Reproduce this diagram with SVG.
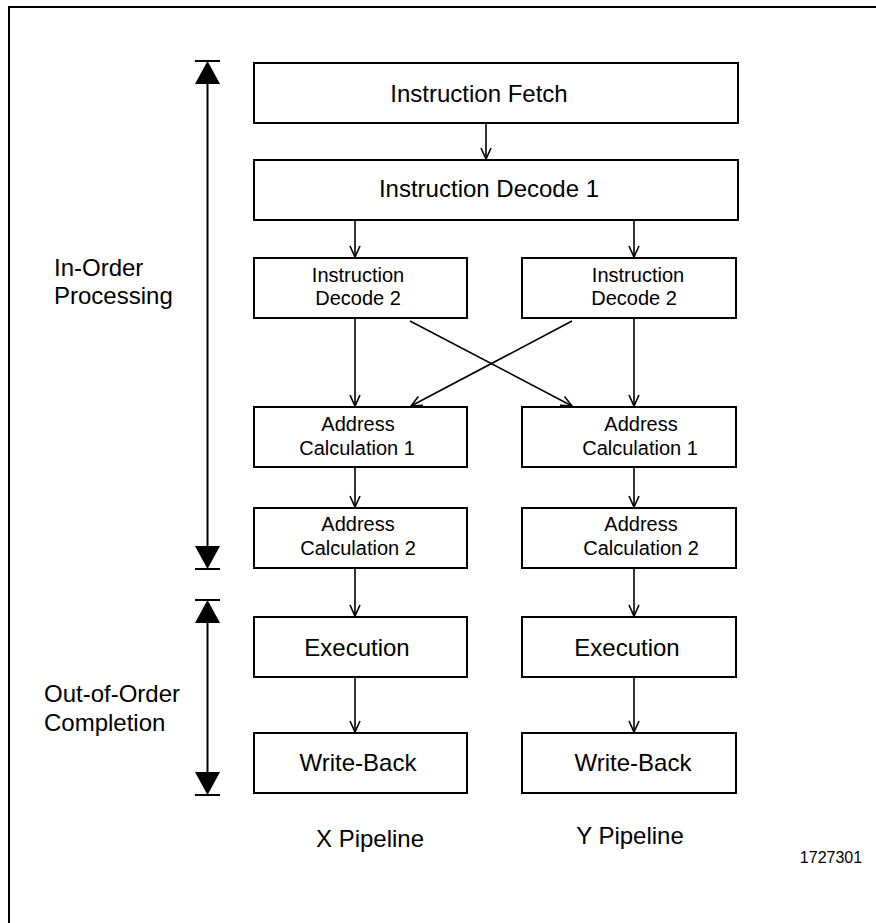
<svg xmlns="http://www.w3.org/2000/svg" width="876" height="923" viewBox="0 0 876 923">
<defs>
<marker id="ah" markerUnits="userSpaceOnUse" markerWidth="14" markerHeight="14" viewBox="-12 -7 14 14" refX="0" refY="0" orient="auto" overflow="visible">
<path d="M-11,-5 L0,0 L-11,5" fill="none" stroke="#000" stroke-width="1.6"/>
</marker>
</defs>
<style>
.box{fill:#fff;stroke:#000;stroke-width:2}
.t{font-family:"Liberation Sans",Arial,sans-serif;fill:#000;text-anchor:middle}
.big{font-size:24px}
.sm{font-size:20px}
.lbl{font-family:"Liberation Sans",Arial,sans-serif;fill:#000;font-size:24px}
.c{fill:none;stroke:#000;stroke-width:1.6;marker-end:url(#ah)}
.dim{fill:none;stroke:#000;stroke-width:2}
</style>
<rect width="876" height="923" fill="#fff"/>
<rect x="9" y="7" width="900" height="960" fill="none" stroke="#000" stroke-width="2"/>

<g id="dim-inorder">
<line class="dim" x1="207.5" y1="70" x2="207.5" y2="560"/>
<line class="dim" x1="195" y1="61" x2="220" y2="61"/>
<polygon points="207.5,61 195,84 220,84" fill="#000"/>
<polygon points="207.5,569 195,546 220,546" fill="#000"/>
<line class="dim" x1="195" y1="569" x2="220" y2="569"/>
<text class="lbl" x="54" y="276">In-Order</text>
<text class="lbl" x="54" y="304">Processing</text>
</g>

<g id="dim-outoforder">
<line class="dim" x1="207.5" y1="610" x2="207.5" y2="786"/>
<line class="dim" x1="195" y1="600" x2="220" y2="600"/>
<polygon points="207.5,600 195,623 220,623" fill="#000"/>
<polygon points="207.5,795 195,772 220,772" fill="#000"/>
<line class="dim" x1="195" y1="795" x2="220" y2="795"/>
<text class="lbl" x="44" y="702">Out-of-Order</text>
<text class="lbl" x="44" y="731">Completion</text>
</g>

<g id="connectors">
<line class="c" x1="486" y1="124" x2="486" y2="159"/>
<line class="c" x1="355" y1="220" x2="355" y2="257"/>
<line class="c" x1="634" y1="220" x2="634" y2="257"/>
<line class="c" x1="355" y1="318" x2="355" y2="406"/>
<line class="c" x1="634" y1="318" x2="634" y2="406"/>
<line class="c" x1="410" y1="321" x2="572" y2="406"/>
<line class="c" x1="572" y1="321" x2="411" y2="406"/>
<line class="c" x1="355" y1="467" x2="355" y2="507"/>
<line class="c" x1="634" y1="467" x2="634" y2="507"/>
<line class="c" x1="355" y1="568" x2="355" y2="616"/>
<line class="c" x1="634" y1="568" x2="634" y2="616"/>
<line class="c" x1="355" y1="677" x2="355" y2="732"/>
<line class="c" x1="634" y1="677" x2="634" y2="732"/>
</g>

<g id="fetch">
<rect class="box" x="254" y="63" width="484" height="60"/>
<text class="t big" x="479" y="102">Instruction Fetch</text>
</g>
<g id="decode1">
<rect class="box" x="254" y="160" width="484" height="60"/>
<text class="t big" x="489" y="197">Instruction Decode 1</text>
</g>

<g id="x-decode2">
<rect class="box" x="254" y="258" width="213" height="60"/>
<text class="t sm" x="358" y="282">Instruction</text>
<text class="t sm" x="358" y="305">Decode 2</text>
</g>
<g id="y-decode2">
<rect class="box" x="522" y="258" width="214" height="60"/>
<text class="t sm" x="638" y="282">Instruction</text>
<text class="t sm" x="634" y="305">Decode 2</text>
</g>

<g id="x-addr1">
<rect class="box" x="254" y="407" width="213" height="60"/>
<text class="t sm" x="358" y="431">Address</text>
<text class="t sm" x="357" y="455">Calculation 1</text>
</g>
<g id="y-addr1">
<rect class="box" x="522" y="407" width="214" height="60"/>
<text class="t sm" x="641" y="431">Address</text>
<text class="t sm" x="640" y="455">Calculation 1</text>
</g>

<g id="x-addr2">
<rect class="box" x="254" y="508" width="213" height="60"/>
<text class="t sm" x="358" y="531">Address</text>
<text class="t sm" x="358" y="555">Calculation 2</text>
</g>
<g id="y-addr2">
<rect class="box" x="522" y="508" width="214" height="60"/>
<text class="t sm" x="641" y="531">Address</text>
<text class="t sm" x="641" y="555">Calculation 2</text>
</g>

<g id="x-exec">
<rect class="box" x="254" y="617" width="213" height="60"/>
<text class="t big" x="357" y="656">Execution</text>
</g>
<g id="y-exec">
<rect class="box" x="522" y="617" width="214" height="60"/>
<text class="t big" x="627" y="656">Execution</text>
</g>

<g id="x-wb">
<rect class="box" x="254" y="733" width="213" height="60"/>
<text class="t big" x="358" y="771">Write-Back</text>
</g>
<g id="y-wb">
<rect class="box" x="522" y="733" width="214" height="60"/>
<text class="t big" x="633" y="771">Write-Back</text>
</g>

<g id="labels">
<text class="t big" x="370" y="847">X Pipeline</text>
<text class="t big" x="630" y="844">Y Pipeline</text>
<text class="t" x="831" y="863" style="font-size:16px">1727301</text>
</g>
</svg>
